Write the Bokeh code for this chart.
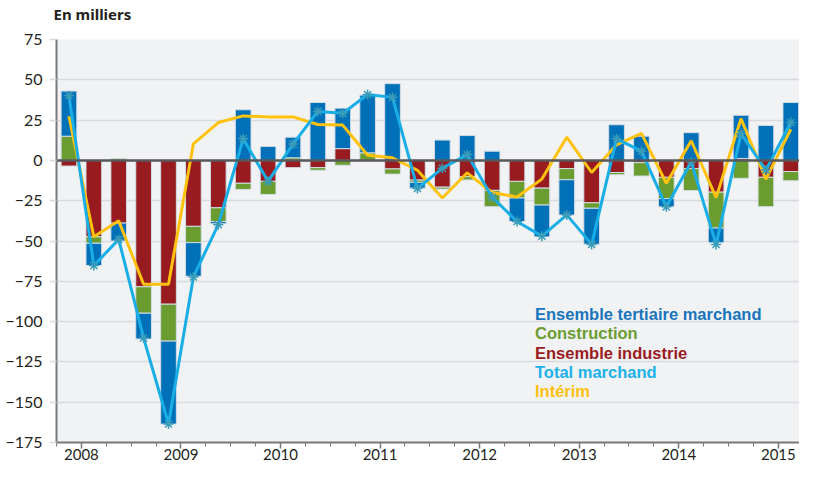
import numpy as np
from bokeh.plotting import figure
from bokeh.models import (Range1d, FixedTicker, Span, Legend, LegendItem,
                          ColumnDataSource)
from bokeh.embed import file_html
from bokeh.resources import INLINE

# ---------------- data (en milliers) ----------------
quarters = ["2007T4",
            "2008T1", "2008T2", "2008T3", "2008T4",
            "2009T1", "2009T2", "2009T3", "2009T4",
            "2010T1", "2010T2", "2010T3", "2010T4",
            "2011T1", "2011T2", "2011T3", "2011T4",
            "2012T1", "2012T2", "2012T3", "2012T4",
            "2013T1", "2013T2", "2013T3", "2013T4",
            "2014T1", "2014T2", "2014T3", "2014T4",
            "2015T1"]
industrie = [-3.5, -47.4, -38.9, -78.4, -89.2, -40.9, -29.4, -14.2, -13.0, -4.5,
             -4.5, 7.3, 0.0, -5.3, -12.2, -16.6, -10.1, -18.6, -13.0, -17.2,
             -5.1, -26.3, -7.5, -1.4, -10.5, -5.1, -19.7, 1.2, -10.5, -6.9]
construction = [15.0, -4.0, 1.0, -16.4, -22.9, -10.1, -8.5, -3.8, -8.1, 1.6,
                -1.6, -3.0, 4.7, -3.2, -1.4, -1.2, -2.0, -10.1, -10.3, -10.5,
                -6.9, -3.4, -1.4, -8.3, -13.2, -13.6, -22.3, -11.1, -18.2, -5.7]
tertiaire = [28.0, -13.8, -11.1, -16.0, -51.5, -20.9, -1.4, 31.4, 8.7, 12.8,
             35.9, 25.1, 35.8, 47.6, -3.6, 12.6, 15.4, 5.7, -14.6, -19.7,
             -21.9, -22.3, 22.1, 15.0, -5.1, 17.2, -9.1, 26.8, 21.7, 35.9]
total = [40.1, -65.2, -49.0, -110.2, -163.5, -72.3, -39.9, 13.4, -13.0, 10.1,
         30.4, 29.2, 40.9, 39.1, -17.4, -4.9, 3.6, -22.7, -37.9, -47.0,
         -33.8, -52.1, 13.4, 5.7, -28.8, -1.0, -52.1, 16.6, -6.0, 23.5]
interim = [27.4, -47.4, -37.5, -76.8, -76.8, 10.3, 23.5, 27.6, 27.0, 27.0,
           22.3, 21.9, 3.2, 1.6, -6.1, -23.3, -7.7, -19.9, -22.7, -11.6,
           14.4, -7.5, 9.7, 16.8, -14.2, 12.2, -23.1, 25.9, -11.6, 19.3]
y_ticks = [-175, -150, -125, -100, -75, -50, -25, 0, 25, 50, 75]

names = ["Ensemble industrie", "Construction", "Ensemble tertiaire marchand"]
bar_colors = ["#971b1f", "#6a9c2f", "#0071b9"]
text_colors = {"Ensemble tertiaire marchand": "#1874bb", "Construction": "#6c9d32",
               "Ensemble industrie": "#9a1c21", "Total marchand": "#1cb1e8",
               "Intérim": "#fcc010"}
FONT = "Lato"
LEG_FONT = "Liberation Sans"

n = len(quarters)
x = np.arange(n) + 0.5

W, H = 799, 467
TOP, LEFT, BOTTOM = 39, 56, 25
p = figure(width=W, height=H, output_backend="svg", toolbar_location=None,
           x_range=Range1d(0, 29.85), y_range=Range1d(-175, 75),
           min_border_left=LEFT, min_border_right=0, min_border_top=TOP,
           min_border_bottom=BOTTOM)
p.background_fill_color = "#f1f2f4"
p.border_fill_color = "white"
p.outline_line_color = None

# title (trailing empty line lifts it above the frame)
p.title.text = "En milliers\n"
p.title.text_font = "Noto Sans"
p.title.text_font_size = "15px"
p.title.text_font_style = "bold"
p.title.text_color = "#231f20"
p.title.text_line_height = 0.8
p.title.standoff = 0
p.title.offset = -3

# grid / axes
p.xgrid.visible = False
p.ygrid.grid_line_color = "#d9dadd"
p.ygrid.grid_line_width = 1.5
p.yaxis.ticker = FixedTicker(ticks=y_ticks)
p.yaxis.axis_line_color = "#77787b"
p.yaxis.axis_line_width = 2
p.yaxis.major_tick_line_color = "#d9dadd"
p.yaxis.major_tick_line_width = 1.5
p.yaxis.major_tick_out = 7
p.yaxis.major_tick_in = 0
p.yaxis.minor_tick_line_color = None
p.yaxis.major_label_standoff = 7
p.yaxis.major_label_text_font = FONT
p.yaxis.major_label_text_font_size = "16px"
p.yaxis.major_label_text_color = "#231f20"

year_pos = [i for i, q in enumerate(quarters) if q.endswith("T1")]
year_labels = {i: quarters[i][:4] for i in year_pos}
p.xaxis.ticker = FixedTicker(ticks=year_pos, minor_ticks=list(range(0, n + 1)))
p.xaxis.major_label_overrides = year_labels
p.xaxis.axis_line_color = "#77787b"
p.xaxis.axis_line_width = 2
p.xaxis.major_tick_line_color = "#77787b"
p.xaxis.minor_tick_line_color = "#77787b"
p.xaxis.major_tick_line_width = 1.5
p.xaxis.minor_tick_line_width = 1
p.xaxis.major_tick_out = 6
p.xaxis.major_tick_in = 0
p.xaxis.minor_tick_out = 4
p.xaxis.minor_tick_in = 0
p.xaxis.major_label_standoff = 0
p.xaxis.major_label_text_font = FONT
p.xaxis.major_label_text_font_size = "15px"
p.xaxis.major_label_text_color = "#231f20"

# stacked bars (positive and negative stacks separately)
pos_base = np.zeros(n)
neg_base = np.zeros(n)
for vals, col in zip([industrie, construction, tertiaire], bar_colors):
    v = np.array(vals, dtype=float)
    bottom = np.where(v >= 0, pos_base, neg_base)
    top = bottom + v
    pos_base = np.where(v >= 0, top, pos_base)
    neg_base = np.where(v < 0, top, neg_base)
    src = ColumnDataSource(dict(x=x, bottom=bottom, top=top))
    p.vbar(x="x", bottom="bottom", top="top", width=0.63, source=src,
           fill_color=col, line_color="#d3dde6", line_width=1)

zero = Span(location=0, dimension="width", line_color="#58595b", line_width=2.5)
zero.level = "glyph"
p.add_layout(zero)

p.line(x, interim, line_color="#fec20f", line_width=3)
p.line(x, total, line_color="#1aaee6", line_width=3)
p.scatter(x, total, marker="asterisk", size=10, line_color="#3a9cb8", line_width=1.5)

# legend glyph proxies (empty renderers)
leg_r = {}
for name, col in zip(names, bar_colors):
    leg_r[name] = [p.line([], [], line_color=col, line_width=6)]
leg_r["Total marchand"] = [p.line([], [], line_color="#1aaee6", line_width=2.5),
                           p.scatter([], [], marker="asterisk", size=7,
                                     line_color="#3a9cb8", line_width=1.2)]
leg_r["Intérim"] = [p.line([], [], line_color="#f6a23a", line_width=2.5)]

order = ["Ensemble tertiaire marchand", "Construction", "Ensemble industrie",
         "Total marchand", "Intérim"]
row_y = [118.0, 98.7, 79.4, 60.1, 40.8]
for name, yy in zip(order, row_y):
    lg = Legend(items=[LegendItem(label=name, renderers=leg_r[name])],
                location=(450, yy), padding=0, margin=0, spacing=0,
                glyph_width=22, glyph_height=19, label_height=19,
                label_standoff=7, label_text_font=LEG_FONT,
                label_text_font_size="16.5px", label_text_font_style="bold",
                label_text_color=text_colors[name],
                background_fill_alpha=0, border_line_alpha=0)
    p.add_layout(lg)

open("out.html", "w").write(file_html(p, INLINE))
